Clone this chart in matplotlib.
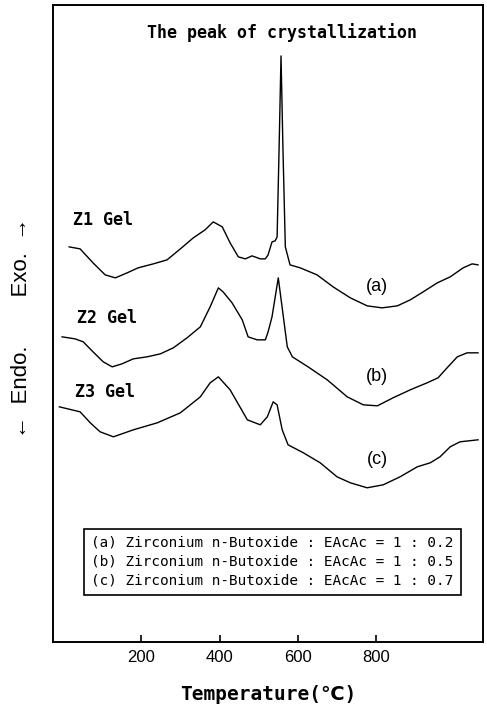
"""
DTA curves of Z1/Z2/Z3 gels
"""

import numpy as np
import matplotlib
matplotlib.use('Agg')
import matplotlib.pyplot as plt

## temperature (C) and signal (arbitrary units)
temp_a = [16, 44, 77, 108, 134, 164, 192, 231, 266, 300, 333, 363, 384, 407,
          427, 448, 466, 483, 504, 517, 524, 534, 542, 547, 552, 557,
          562, 568, 580, 606, 649, 690, 734, 777, 815, 854, 887, 920, 956,
          989, 1022, 1045, 1060]
sig_a = [395, 393, 379, 367, 364, 369, 374, 378, 382, 393, 404, 412, 420, 415,
         399, 385, 383, 386, 383, 383, 387, 400, 401, 405, 492, 586,
         492, 395, 377, 374, 367, 355, 344, 336, 334, 336, 342, 350, 359,
         365, 374, 378, 377]

temp_b = [-2, 31, 52, 77, 103, 126, 151, 180, 215, 249, 282, 317, 351, 376,
          397, 409, 432, 458, 473, 496, 517, 524, 534, 550, 563, 573, 586,
          626, 675, 726, 767, 803, 843, 887, 930, 958, 981, 1007, 1032, 1060]
sig_b = [305, 303, 300, 290, 280, 275, 278, 283, 285, 288, 294, 304, 315, 335,
         354, 350, 339, 322, 305, 302, 302, 310, 325, 364, 325, 295, 285,
         275, 262, 245, 237, 236, 244, 252, 259, 264, 274, 285, 289, 289]

temp_c = [-9, 44, 70, 95, 129, 180, 241, 300, 351, 376, 397, 427, 471, 504,
          522, 537, 547, 560, 575, 614, 657, 700, 734, 777, 818, 861, 905,
          938, 963, 989, 1014, 1060]
sig_c = [235, 230, 219, 210, 205, 212, 219, 229, 245, 259, 265, 252, 222, 217,
         225, 240, 237, 212, 197, 189, 179, 165, 159, 154, 157, 165, 175,
         179, 185, 195, 200, 202]

gel_names = ['Z1 Gel', 'Z2 Gel', 'Z3 Gel']
curve_tags = ['(a)', '(b)', '(c)']
ratios = ['0.2', '0.5', '0.7']
x_ticks = [200, 400, 600, 800]

mono = ['DejaVu Sans Mono', 'DejaVu Sans']
sans = ['Liberation Sans', 'DejaVu Sans']

fig = plt.figure(figsize=[4.87, 7.06], dpi=100)
ax = fig.add_axes([0.109, 0.091, 0.883, 0.902])

for t, s in [(temp_a, sig_a), (temp_b, sig_b), (temp_c, sig_c)]:
    ax.plot(t, s, color='black', linewidth=1.0)

ax.set_xlim(-25, 1073)
ax.set_ylim(0, 637)
ax.set_xticks(x_ticks)
ax.set_xticklabels([str(v) for v in x_ticks], family=sans, fontsize=12)
ax.tick_params(axis='x', direction='in', length=5, width=1.2, pad=6,
               top=False)
ax.set_yticks([])
for sp in ax.spines.values():
    sp.set_linewidth(1.4)

ax.text(560, 609, 'The peak of crystallization', ha='center', va='center',
        family=mono, fontsize=12, fontweight='bold')

## gel names and curve tags
for name, x, y in zip(gel_names, [26, 37, 32], [422, 324, 250]):
    ax.text(x, y, name, ha='left', va='center', family=mono, fontsize=12,
            fontweight='bold')
for tag, y in zip(curve_tags, [355, 265, 182]):
    ax.text(802, y, tag, ha='center', va='center', family=sans, fontsize=13)

legend_lines = ['(%s) Zirconium n-Butoxide : EAcAc = 1 : %s' % (c, r)
                for c, r in zip('abc', ratios)]
ax.text(0.510, 0.1256, '\n'.join(legend_lines), transform=ax.transAxes,
        ha='center', va='center', multialignment='left', family=mono,
        fontsize=10.4, linespacing=1.45,
        bbox=dict(boxstyle='square,pad=0.5', facecolor='white',
                  edgecolor='black', linewidth=1.2))

ax.set_xlabel('Temperature(\u2103)', family=mono, fontsize=14,
              fontweight='bold', labelpad=14)

fig.text(22 / 487, 1 - 328 / 706, '\u2190  Endo.        Exo.  \u2192',
         rotation=90, ha='center', va='center', family=sans, fontsize=16)

plt.savefig('out.png', dpi=100)
